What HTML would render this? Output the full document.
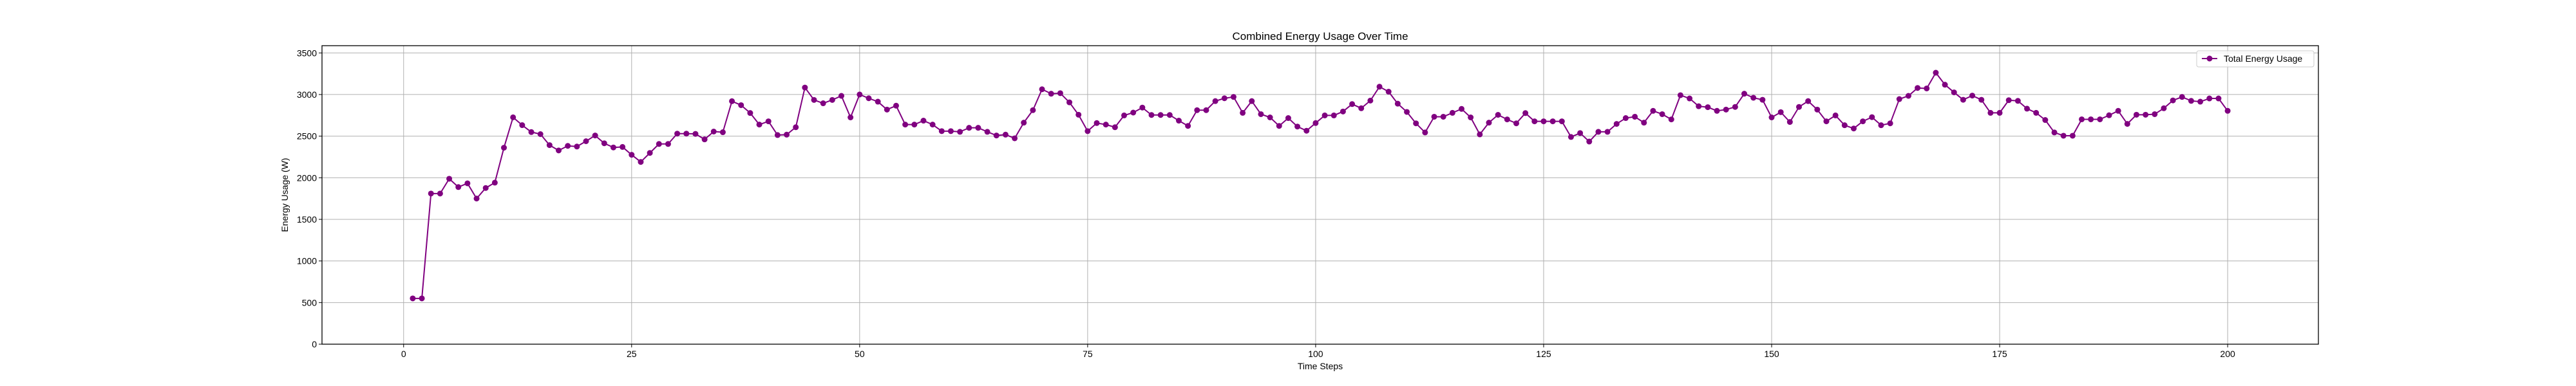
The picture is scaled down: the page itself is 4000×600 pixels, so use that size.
<!DOCTYPE html>
<html><head><meta charset="utf-8"><style>
html,body{margin:0;padding:0;background:#fff}
svg{display:block;font-family:"Liberation Sans","DejaVu Sans",sans-serif}
</style></head><body>
<svg id="chart" width="4000" height="600" viewBox="0 0 4000 600" xmlns="http://www.w3.org/2000/svg">
<rect width="4000" height="600" fill="#fff"/>
<g id="grid"></g>
<g id="ticks"></g>
<g id="series"></g>
<rect x="500" y="71" width="3100" height="464" fill="none" stroke="#000" stroke-width="1.3"/>
<text x="2050" y="62" text-anchor="middle" font-size="17">Combined Energy Usage Over Time</text>
<text x="2050" y="574" text-anchor="middle" font-size="14">Time Steps</text>
<text x="447" y="303" text-anchor="middle" font-size="14" transform="rotate(-90 447 303)">Energy Usage (W)</text>
<g>
<rect x="3411" y="79" width="182" height="25" rx="3" fill="#fff" fill-opacity="0.8" stroke="#ccc"/>
<line x1="3419" y1="91" x2="3443" y2="91" stroke="#800080" stroke-width="2"/>
<circle cx="3431" cy="91" r="4.5" fill="#800080"/>
<text x="3453" y="96" font-size="14">Total Energy Usage</text>
</g>
</svg>
<script>
const xTicks = [0, 25, 50, 75, 100, 125, 150, 175, 200];
const yTicks = [0, 500, 1000, 1500, 2000, 2500, 3000, 3500];
const energy = [550,550,1810,1810,1988,1888,1933,1750,1877,1941,
2361,2726,2632,2549,2524,2392,2328,2383,2375,2439,
2508,2414,2364,2370,2276,2190,2298,2406,2406,2530,
2530,2527,2461,2555,2547,2920,2872,2778,2639,2678,
2513,2518,2607,3084,2935,2895,2935,2984,2725,3000,
2955,2914,2819,2866,2639,2639,2686,2639,2560,2560,
2552,2600,2600,2552,2508,2518,2474,2662,2812,3063,
3010,3016,2906,2757,2560,2657,2639,2607,2749,2783,
2843,2754,2754,2754,2686,2623,2812,2812,2921,2955,
2971,2780,2921,2764,2725,2623,2717,2615,2565,2657,
2749,2749,2796,2885,2835,2927,3094,3034,2890,2791,
2654,2544,2733,2733,2780,2827,2725,2521,2662,2756,
2701,2654,2777,2678,2678,2678,2678,2490,2537,2435,
2552,2552,2647,2717,2733,2662,2804,2764,2701,2992,
2953,2859,2848,2804,2819,2851,3010,2961,2937,2725,
2788,2670,2851,2921,2819,2678,2749,2631,2592,2678,
2728,2631,2654,2945,2984,3079,3073,3262,3118,3026,
2937,2987,2937,2780,2780,2932,2924,2830,2780,2694,
2544,2505,2505,2702,2702,2702,2751,2804,2647,2757,
2757,2764,2835,2929,2971,2924,2914,2953,2953,2804];
const steps = energy.map((v,i)=>i+1);

const NS="http://www.w3.org/2000/svg";
const X0=500,X1=3600,Y0=535,Y1=71;
const xMin=-8.95,xMax=209.95,yMin=0,yMax=3587;
function xs(v){return X0+(v-xMin)/(xMax-xMin)*(X1-X0);}
function ys(v){return Y0-(v-yMin)/(yMax-yMin)*(Y0-Y1);}
function mk(tag,attrs,parent){const e=document.createElementNS(NS,tag);for(const k in attrs)e.setAttribute(k,attrs[k]);parent.appendChild(e);return e;}
const grid=document.getElementById('grid'),ticks=document.getElementById('ticks'),series=document.getElementById('series');
xTicks.forEach(t=>{
  const x=xs(t);
  const g=mk('line',{x1:x,y1:Y1,x2:x,y2:Y0,stroke:'#b0b0b0','stroke-width':1},grid);
  
  
  const tk=mk('line',{x1:x,y1:Y0,x2:x,y2:Y0+5,stroke:'#000','stroke-width':1},ticks);
  
  
  const lb=mk('text',{x:x,y:Y0+20,'text-anchor':'middle','font-size':14},ticks);
  lb.textContent=t;
  
  
});
yTicks.forEach(t=>{
  const y=ys(t);
  const g=mk('line',{x1:X0,y1:y,x2:X1,y2:y,stroke:'#b0b0b0','stroke-width':1},grid);
  
  
  const tk=mk('line',{x1:X0-5,y1:y,x2:X0,y2:y,stroke:'#000','stroke-width':1},ticks);
  
  
  const lb=mk('text',{x:X0-8,y:y+5,'text-anchor':'end','font-size':14},ticks);
  lb.textContent=t;
  
  
});
const pts=energy.map((v,i)=>xs(steps[i]).toFixed(2)+','+ys(v).toFixed(2)).join(' ');
const line=mk('polyline',{points:pts,fill:'none',stroke:'#800080','stroke-width':2,'stroke-linejoin':'round'},series);


energy.forEach((v,i)=>{
  const c=mk('circle',{cx:xs(steps[i]),cy:ys(v),r:4.5,fill:'#800080'},series);
  
  
});
</script>
</body></html>
